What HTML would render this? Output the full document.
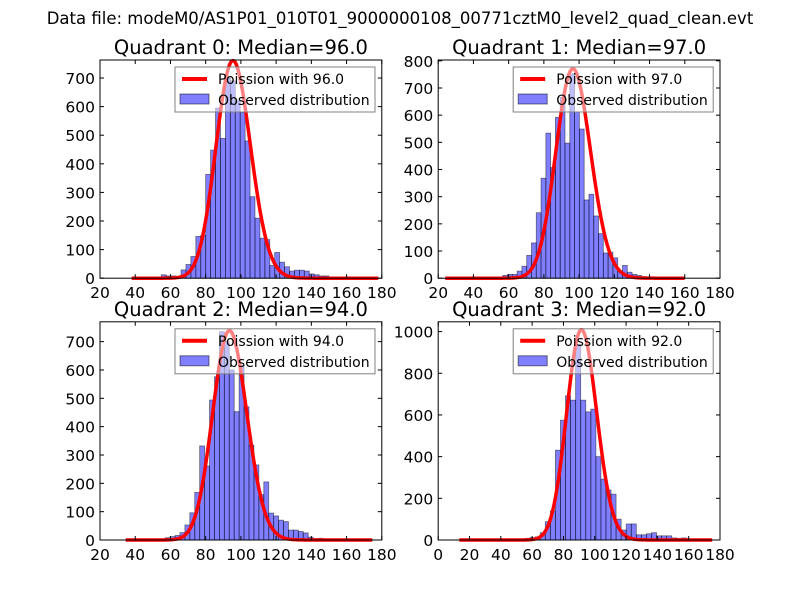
<!DOCTYPE html>
<html><head><meta charset="utf-8">
<style>
body{margin:0;background:#fff;}
svg{display:block;font-family:"DejaVu Sans","Liberation Sans",sans-serif;}
</style></head>
<body>
<svg id="fig" width="800" height="600" viewBox="0 0 800 600">
<rect width="800" height="600" fill="#fff"/>
<text x="400" y="24" text-anchor="middle" font-size="16.5">Data file: modeM0/AS1P01_010T01_9000000108_00771cztM0_level2_quad_clean.evt</text>
</svg>
<script>
const medians = [96.0, 97.0, 94.0, 92.0];
const binStarts = [38, 24, 34.6, 13.5];
const binWidths = [2.8, 2.72, 2.8, 3.23];
const curveAmps = [760, 770, 738, 1008];
const xMins = [20, 20, 20, 0];
const xMaxs = [180, 180, 180, 180];
const yMaxs = [763, 803, 770, 1047];
const xTicks0 = [20,40,60,80,100,120,140,160,180];
const xTicks3 = [0,20,40,60,80,100,120,140,160,180];
const yTicks0 = [0,100,200,300,400,500,600,700];
const yTicks1 = [0,100,200,300,400,500,600,700,800];
const yTicks3 = [0,200,400,600,800,1000];
const counts0 = [0,0,1,0,0,0,12,8,8,3,29,48,76,146,150,363,448,595,489,700,690,620,580,480,285,210,140,135,45,90,56,40,25,28,28,25,15,12,8,8,3,2,0,0,0,0,0,0,0,1];
const counts1 = [1,0,0,0,0,0,0,0,3,2,3,4,10,14,14,26,44,84,130,241,368,534,407,592,665,497,752,612,549,288,309,229,164,93,96,75,26,47,22,14,10,6,4,2,1,0,0,0,0,1];
const counts2 = [1,0,0,0,2,1,2,4,8,12,16,26,53,96,168,332,261,494,576,735,700,600,453,615,470,335,265,160,205,95,85,70,65,35,35,30,25,10,5,6,4,2,1,1,0,0,0,0,0,1];
const counts3 = [1,0,2,0,0,0,1,0,3,0,5,3,5,8,12,15,35,88,140,431,575,692,671,939,671,615,628,400,292,240,220,100,48,77,77,25,25,30,35,20,20,20,10,8,10,5,2,1,0,1];
const allCounts = [counts0, counts1, counts2, counts3];
const xTickSets = [xTicks0, xTicks0, xTicks0, xTicks3];
const yTickSets = [yTicks0, yTicks1, yTicks0, yTicks3];

const NS = "http://www.w3.org/2000/svg";
const svg = document.getElementById('fig');
function mk(tag, attrs, parent){
  const e = document.createElementNS(NS, tag);
  for (const k in attrs) e.setAttribute(k, attrs[k]);
  (parent||svg).appendChild(e);
  return e;
}
function lgamma(z){
  const g=7, c=[0.99999999999980993,676.5203681218851,-1259.1392167224028,771.32342877765313,-176.61502916214059,12.507343278686905,-0.13857109526572012,9.9843695780195716e-6,1.5056327351493116e-7];
  z-=1; let x=c[0]; for(let i=1;i<g+2;i++) x+=c[i]/(z+i);
  const t=z+g+0.5; return 0.5*Math.log(2*Math.PI)+(z+0.5)*Math.log(t)-t+Math.log(x);
}
function logPmf(k, mu){ return k*Math.log(mu)-mu-lgamma(k+1); }
const boxes = [[100,60],[438.2,60],[100,321.8],[438.2,321.8]];
const W = 281.8, H = 218.2;
for (let q=0;q<4;q++){
  const [L,T] = boxes[q];
  const g = mk('g', {});
  
  
  const xs = v => L + (v - xMins[q])/(xMaxs[q]-xMins[q])*W;
  const ys = v => T + H - v/yMaxs[q]*H;
  const counts = allCounts[q];
  const cg = mk('g', {}, g);
  
  
  for (let k=0;k<counts.length;k++){
    if (counts[k] <= 0) continue;
    const x0 = xs(binStarts[q] + k*binWidths[q]);
    const x1 = xs(binStarts[q] + (k+1)*binWidths[q]);
    const r = mk('rect', {x:x0, y:ys(counts[k]), width:x1-x0, height:ys(0)-ys(counts[k]), fill:'#0000ff', 'fill-opacity':0.5, stroke:'#000', 'stroke-opacity':0.5, 'stroke-width':0.8}, cg);
    
    
  }
  const mu = medians[q];
  const peak = logPmf(Math.round(mu), mu);
  const x0 = binStarts[q], x1 = binStarts[q] + counts.length*binWidths[q];
  let d = '';
  for (let v = x0; v <= x1 + 1e-9; v += 0.5){
    const y = curveAmps[q]*Math.exp(logPmf(v, mu) - peak);
    d += (d ? 'L' : 'M') + xs(v).toFixed(2) + ',' + ys(y).toFixed(2);
  }
  const p = mk('path', {d:d, fill:'none', stroke:'#ff0000', 'stroke-width':3.5, 'stroke-linejoin':'round'}, g);
  
  
  const fr = mk('rect', {x:L, y:T, width:W, height:H, fill:'none', stroke:'#000', 'stroke-width':1}, g);
  
  
  for (const t of xTickSets[q]){
    const x = xs(t);
    mk('line', {x1:x, y1:T+H, x2:x, y2:T+H-4, stroke:'#000'}, g);
    mk('line', {x1:x, y1:T, x2:x, y2:T+4, stroke:'#000'}, g);
    const tx = mk('text', {x:x, y:T+H+20, 'text-anchor':'middle', 'font-size':15.5}, g);
    tx.textContent = t;
    
    
  }
  for (const t of yTickSets[q]){
    const y = ys(t);
    mk('line', {x1:L, y1:y, x2:L+4, y2:y, stroke:'#000'}, g);
    mk('line', {x1:L+W, y1:y, x2:L+W-4, y2:y, stroke:'#000'}, g);
    const ty = mk('text', {x:L-5, y:y+6, 'text-anchor':'end', 'font-size':15.5}, g);
    ty.textContent = t;
    
    
  }
  const title = mk('text', {x:L+W/2, y:T-6, 'text-anchor':'middle', 'font-size':19.5}, g);
  title.textContent = 'Quadrant '+q+': Median='+medians[q].toFixed(1);
  
  
  const lg = mk('g', {}, g);
  
  
  const LX = L + 75, LY = T + 7;
  mk('rect', {x:LX, y:LY, width:200, height:45, fill:'#fff', 'fill-opacity':0.5, stroke:'#808080', 'stroke-width':1}, lg);
  mk('line', {x1:LX+7, y1:LY+12, x2:LX+32, y2:LY+12, stroke:'#ff0000', 'stroke-width':4}, lg);
  const t1 = mk('text', {x:LX+43, y:LY+17, 'font-size':14}, lg);
  t1.textContent = 'Poission with '+medians[q].toFixed(1);
  
  
  mk('rect', {x:LX+5, y:LY+27, width:29, height:10, fill:'#0000ff', 'fill-opacity':0.5, stroke:'#000', 'stroke-opacity':0.5}, lg);
  const t2 = mk('text', {x:LX+43, y:LY+38, 'font-size':14}, lg);
  t2.textContent = 'Observed distribution';
  
  
}
</script>
</body></html>
